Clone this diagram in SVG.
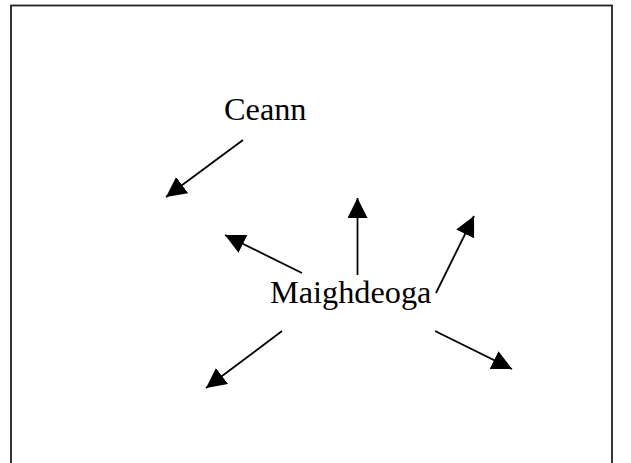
<svg xmlns="http://www.w3.org/2000/svg" width="631" height="463" viewBox="0 0 631 463">
<style>
.lbl{font-family:"Liberation Serif","Times New Roman",serif;font-size:32.3px;fill:#000}
.conn line{stroke:#000;stroke-width:1.8}
</style>
<defs>
<marker id="ah" markerUnits="userSpaceOnUse" markerWidth="21" markerHeight="21" refX="20" refY="10" orient="auto">
<path d="M0,0 L20,10 L0,20 z" fill="#000"/>
</marker>
</defs>
<rect x="0" y="0" width="631" height="463" fill="#fff"/>
<rect x="11" y="5.5" width="601" height="470" fill="none" stroke="#222" stroke-width="1.8"/>
<g id="ceann"><text class="lbl" x="224" y="120">Ceann</text></g>
<g id="maighdeoga"><text class="lbl" x="270" y="303">Maighdeoga</text></g>
<g class="conn" id="connectors">
<line x1="243" y1="140" x2="166" y2="197" marker-end="url(#ah)"/>
<line x1="357.5" y1="275" x2="357.5" y2="198" marker-end="url(#ah)"/>
<line x1="302" y1="273" x2="225" y2="235" marker-end="url(#ah)"/>
<line x1="436" y1="293" x2="474" y2="216" marker-end="url(#ah)"/>
<line x1="282" y1="331" x2="206" y2="388" marker-end="url(#ah)"/>
<line x1="435" y1="331" x2="512" y2="369" marker-end="url(#ah)"/>
</g>
</svg>
